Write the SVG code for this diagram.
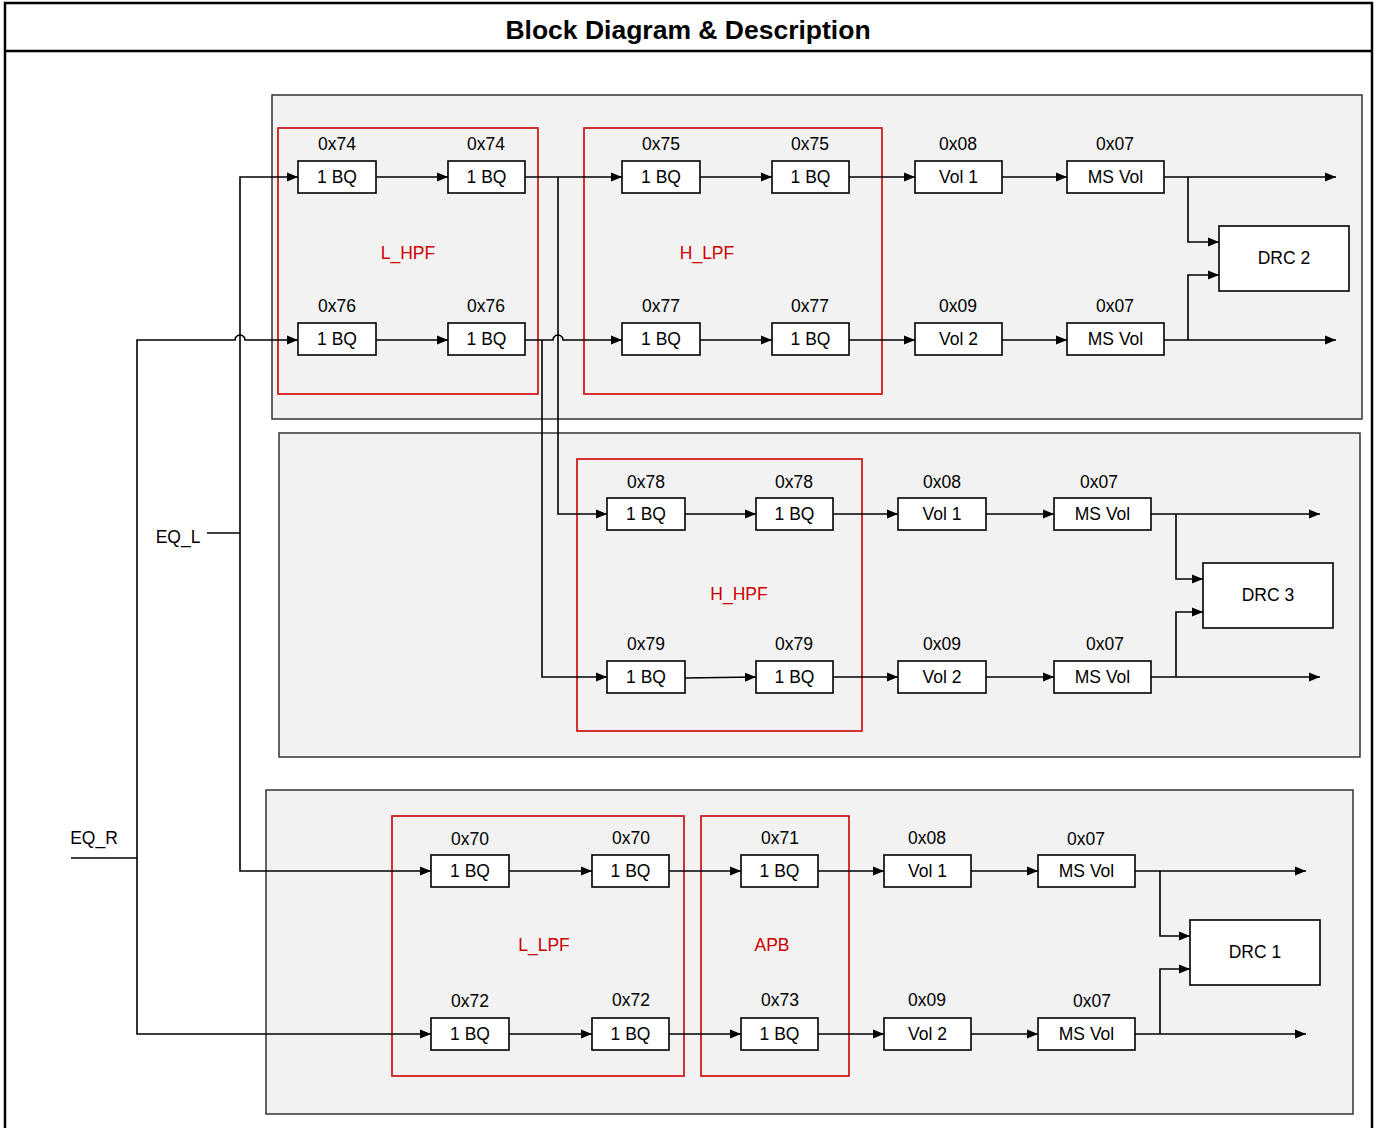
<svg xmlns="http://www.w3.org/2000/svg" width="1378" height="1128" viewBox="0 0 1378 1128">
<defs>
<marker id="arr" markerUnits="userSpaceOnUse" markerWidth="12" markerHeight="11" refX="11" refY="5.5" orient="auto">
<path d="M0,1 L11,5.5 L0,10 Z" fill="#000"/>
</marker>
<style>
text{font-family:"Liberation Sans",Arial,sans-serif;font-size:17.5px;fill:#000;text-anchor:middle}
.title{font-weight:bold;font-size:26.5px}
.red{fill:#cc0000}
.grp{fill:#f2f2f2;stroke:#333;stroke-width:1.5}
.rbox{fill:none;stroke:#cc0000;stroke-width:1.6}
.nd rect{fill:#fff;stroke:#000;stroke-width:1.6}
.c path{fill:none;stroke:#000;stroke-width:1.6}
.c path.a{marker-end:url(#arr)}
</style>
</defs>
<rect x="0" y="0" width="1378" height="1128" fill="#fff"/>
<rect x="5" y="3" width="1367" height="1140" fill="none" stroke="#000" stroke-width="2.5"/>
<line x1="5" y1="51" x2="1372" y2="51" stroke="#000" stroke-width="2.5"/>
<text class="title" x="688" y="39">Block Diagram &amp; Description</text>

<g id="groups">
<rect class="grp" x="272" y="95" width="1090" height="324"/>
<rect class="grp" x="279" y="433" width="1081" height="324"/>
<rect class="grp" x="266" y="790" width="1087" height="324"/>
</g>
<g id="filters">
<rect class="rbox" x="278" y="128" width="260" height="266"/>
<rect class="rbox" x="584" y="128" width="298" height="266"/>
<rect class="rbox" x="577" y="459" width="285" height="272"/>
<rect class="rbox" x="392" y="816" width="292" height="260"/>
<rect class="rbox" x="701" y="816" width="148" height="260"/>
<text class="red" x="408" y="259">L_HPF</text>
<text class="red" x="707" y="259">H_LPF</text>
<text class="red" x="739" y="600">H_HPF</text>
<text class="red" x="544" y="951">L_LPF</text>
<text class="red" x="772" y="951">APB</text>
</g>

<g class="c" id="connectors">
<path d="M207,533 H240"/>
<path class="a" d="M240,533 V177 H298"/>
<path class="a" d="M240,533 V871 H431"/>
<path d="M71,858 H137"/>
<path class="a" d="M137,858 V340 H235 A5,5 0 0 1 245,340 H298"/>
<path class="a" d="M137,858 V1034 H431"/>
<!-- row 1 -->
<path class="a" d="M376,177 H448"/>
<path class="a" d="M525,177 H622"/>
<path class="a" d="M558,177 V514 H607"/>
<path class="a" d="M700,177 H772"/>
<path class="a" d="M849,177 H915"/>
<path class="a" d="M1002,177 H1067"/>
<path class="a" d="M1164,177 H1336"/>
<path class="a" d="M1188,177 V242 H1219"/>
<!-- row 2 -->
<path class="a" d="M376,340 H448"/>
<path class="a" d="M525,340 H553 A5,5 0 0 1 563,340 H622"/>
<path class="a" d="M542,340 V677 H607"/>
<path class="a" d="M700,340 H772"/>
<path class="a" d="M849,340 H915"/>
<path class="a" d="M1002,340 H1067"/>
<path class="a" d="M1164,340 H1336"/>
<path class="a" d="M1188,340 V275 H1219"/>
<!-- row 3 -->
<path class="a" d="M685,514 H756"/>
<path class="a" d="M833,514 H898"/>
<path class="a" d="M986,514 H1054"/>
<path class="a" d="M1151,514 H1320"/>
<path class="a" d="M1176,514 V579 H1203"/>
<!-- row 4 -->
<path class="a" d="M685,678 L756,677"/>
<path class="a" d="M833,677 H898"/>
<path class="a" d="M986,677 H1054"/>
<path class="a" d="M1151,677 H1320"/>
<path class="a" d="M1176,677 V612 H1203"/>
<!-- row 5 -->
<path class="a" d="M509,871 H592"/>
<path class="a" d="M669,871 H741"/>
<path class="a" d="M818,871 H884"/>
<path class="a" d="M971,871 H1038"/>
<path class="a" d="M1135,871 H1306"/>
<path class="a" d="M1160,871 V936 H1190"/>
<!-- row 6 -->
<path class="a" d="M509,1034 H592"/>
<path class="a" d="M669,1034 H741"/>
<path class="a" d="M818,1034 H884"/>
<path class="a" d="M971,1034 H1038"/>
<path class="a" d="M1135,1034 H1306"/>
<path class="a" d="M1160,1034 V969 H1190"/>
</g>

<g id="inputs">
<text x="178" y="543">EQ_L</text>
<text x="94" y="844">EQ_R</text>
</g>

<!-- row 1 -->
<g class="nd" id="n_0x74a"><text x="337" y="150">0x74</text><rect x="298" y="161" width="78" height="32"/><text x="337" y="183">1 BQ</text></g>
<g class="nd" id="n_0x74b"><text x="486" y="150">0x74</text><rect x="448" y="161" width="77" height="32"/><text x="486.5" y="183">1 BQ</text></g>
<g class="nd" id="n_0x75a"><text x="661" y="150">0x75</text><rect x="622" y="161" width="78" height="32"/><text x="661" y="183">1 BQ</text></g>
<g class="nd" id="n_0x75b"><text x="810" y="150">0x75</text><rect x="772" y="161" width="77" height="32"/><text x="810.5" y="183">1 BQ</text></g>
<g class="nd" id="n_vol1_a"><text x="958" y="150">0x08</text><rect x="915" y="161" width="87" height="32"/><text x="958.5" y="183">Vol 1</text></g>
<g class="nd" id="n_msvol_a"><text x="1115" y="150">0x07</text><rect x="1067" y="161" width="97" height="32"/><text x="1115.5" y="183">MS Vol</text></g>
<!-- row 2 -->
<g class="nd" id="n_0x76a"><text x="337" y="312">0x76</text><rect x="298" y="323" width="78" height="32"/><text x="337" y="345">1 BQ</text></g>
<g class="nd" id="n_0x76b"><text x="486" y="312">0x76</text><rect x="448" y="323" width="77" height="32"/><text x="486.5" y="345">1 BQ</text></g>
<g class="nd" id="n_0x77a"><text x="661" y="312">0x77</text><rect x="622" y="323" width="78" height="32"/><text x="661" y="345">1 BQ</text></g>
<g class="nd" id="n_0x77b"><text x="810" y="312">0x77</text><rect x="772" y="323" width="77" height="32"/><text x="810.5" y="345">1 BQ</text></g>
<g class="nd" id="n_vol2_a"><text x="958" y="312">0x09</text><rect x="915" y="323" width="87" height="32"/><text x="958.5" y="345">Vol 2</text></g>
<g class="nd" id="n_msvol_b"><text x="1115" y="312">0x07</text><rect x="1067" y="323" width="97" height="32"/><text x="1115.5" y="345">MS Vol</text></g>
<g class="nd" id="n_drc2"><rect x="1219" y="226" width="130" height="65"/><text x="1284" y="264">DRC 2</text></g>
<!-- row 3 -->
<g class="nd" id="n_0x78a"><text x="646" y="488">0x78</text><rect x="607" y="498" width="78" height="32"/><text x="646" y="520">1 BQ</text></g>
<g class="nd" id="n_0x78b"><text x="794" y="488">0x78</text><rect x="756" y="498" width="77" height="32"/><text x="794.5" y="520">1 BQ</text></g>
<g class="nd" id="n_vol1_b"><text x="942" y="488">0x08</text><rect x="898" y="498" width="88" height="32"/><text x="942" y="520">Vol 1</text></g>
<g class="nd" id="n_msvol_c"><text x="1099" y="488">0x07</text><rect x="1054" y="498" width="97" height="32"/><text x="1102.5" y="520">MS Vol</text></g>
<!-- row 4 -->
<g class="nd" id="n_0x79a"><text x="646" y="650">0x79</text><rect x="607" y="661" width="78" height="32"/><text x="646" y="683">1 BQ</text></g>
<g class="nd" id="n_0x79b"><text x="794" y="650">0x79</text><rect x="756" y="661" width="77" height="32"/><text x="794.5" y="683">1 BQ</text></g>
<g class="nd" id="n_vol2_b"><text x="942" y="650">0x09</text><rect x="898" y="661" width="88" height="32"/><text x="942" y="683">Vol 2</text></g>
<g class="nd" id="n_msvol_d"><text x="1105" y="650">0x07</text><rect x="1054" y="661" width="97" height="32"/><text x="1102.5" y="683">MS Vol</text></g>
<g class="nd" id="n_drc3"><rect x="1203" y="563" width="130" height="65"/><text x="1268" y="601">DRC 3</text></g>
<!-- row 5 -->
<g class="nd" id="n_0x70a"><text x="470" y="845">0x70</text><rect x="431" y="855" width="78" height="32"/><text x="470" y="877">1 BQ</text></g>
<g class="nd" id="n_0x70b"><text x="631" y="844">0x70</text><rect x="592" y="855" width="77" height="32"/><text x="630.5" y="877">1 BQ</text></g>
<g class="nd" id="n_0x71"><text x="780" y="844">0x71</text><rect x="741" y="855" width="77" height="32"/><text x="779.5" y="877">1 BQ</text></g>
<g class="nd" id="n_vol1_c"><text x="927" y="844">0x08</text><rect x="884" y="855" width="87" height="32"/><text x="927.5" y="877">Vol 1</text></g>
<g class="nd" id="n_msvol_e"><text x="1086" y="845">0x07</text><rect x="1038" y="855" width="97" height="32"/><text x="1086.5" y="877">MS Vol</text></g>
<!-- row 6 -->
<g class="nd" id="n_0x72a"><text x="470" y="1007">0x72</text><rect x="431" y="1018" width="78" height="32"/><text x="470" y="1040">1 BQ</text></g>
<g class="nd" id="n_0x72b"><text x="631" y="1006">0x72</text><rect x="592" y="1018" width="77" height="32"/><text x="630.5" y="1040">1 BQ</text></g>
<g class="nd" id="n_0x73"><text x="780" y="1006">0x73</text><rect x="741" y="1018" width="77" height="32"/><text x="779.5" y="1040">1 BQ</text></g>
<g class="nd" id="n_vol2_c"><text x="927" y="1006">0x09</text><rect x="884" y="1018" width="87" height="32"/><text x="927.5" y="1040">Vol 2</text></g>
<g class="nd" id="n_msvol_f"><text x="1092" y="1007">0x07</text><rect x="1038" y="1018" width="97" height="32"/><text x="1086.5" y="1040">MS Vol</text></g>
<g class="nd" id="n_drc1"><rect x="1190" y="920" width="130" height="65"/><text x="1255" y="958">DRC 1</text></g>
</svg>
